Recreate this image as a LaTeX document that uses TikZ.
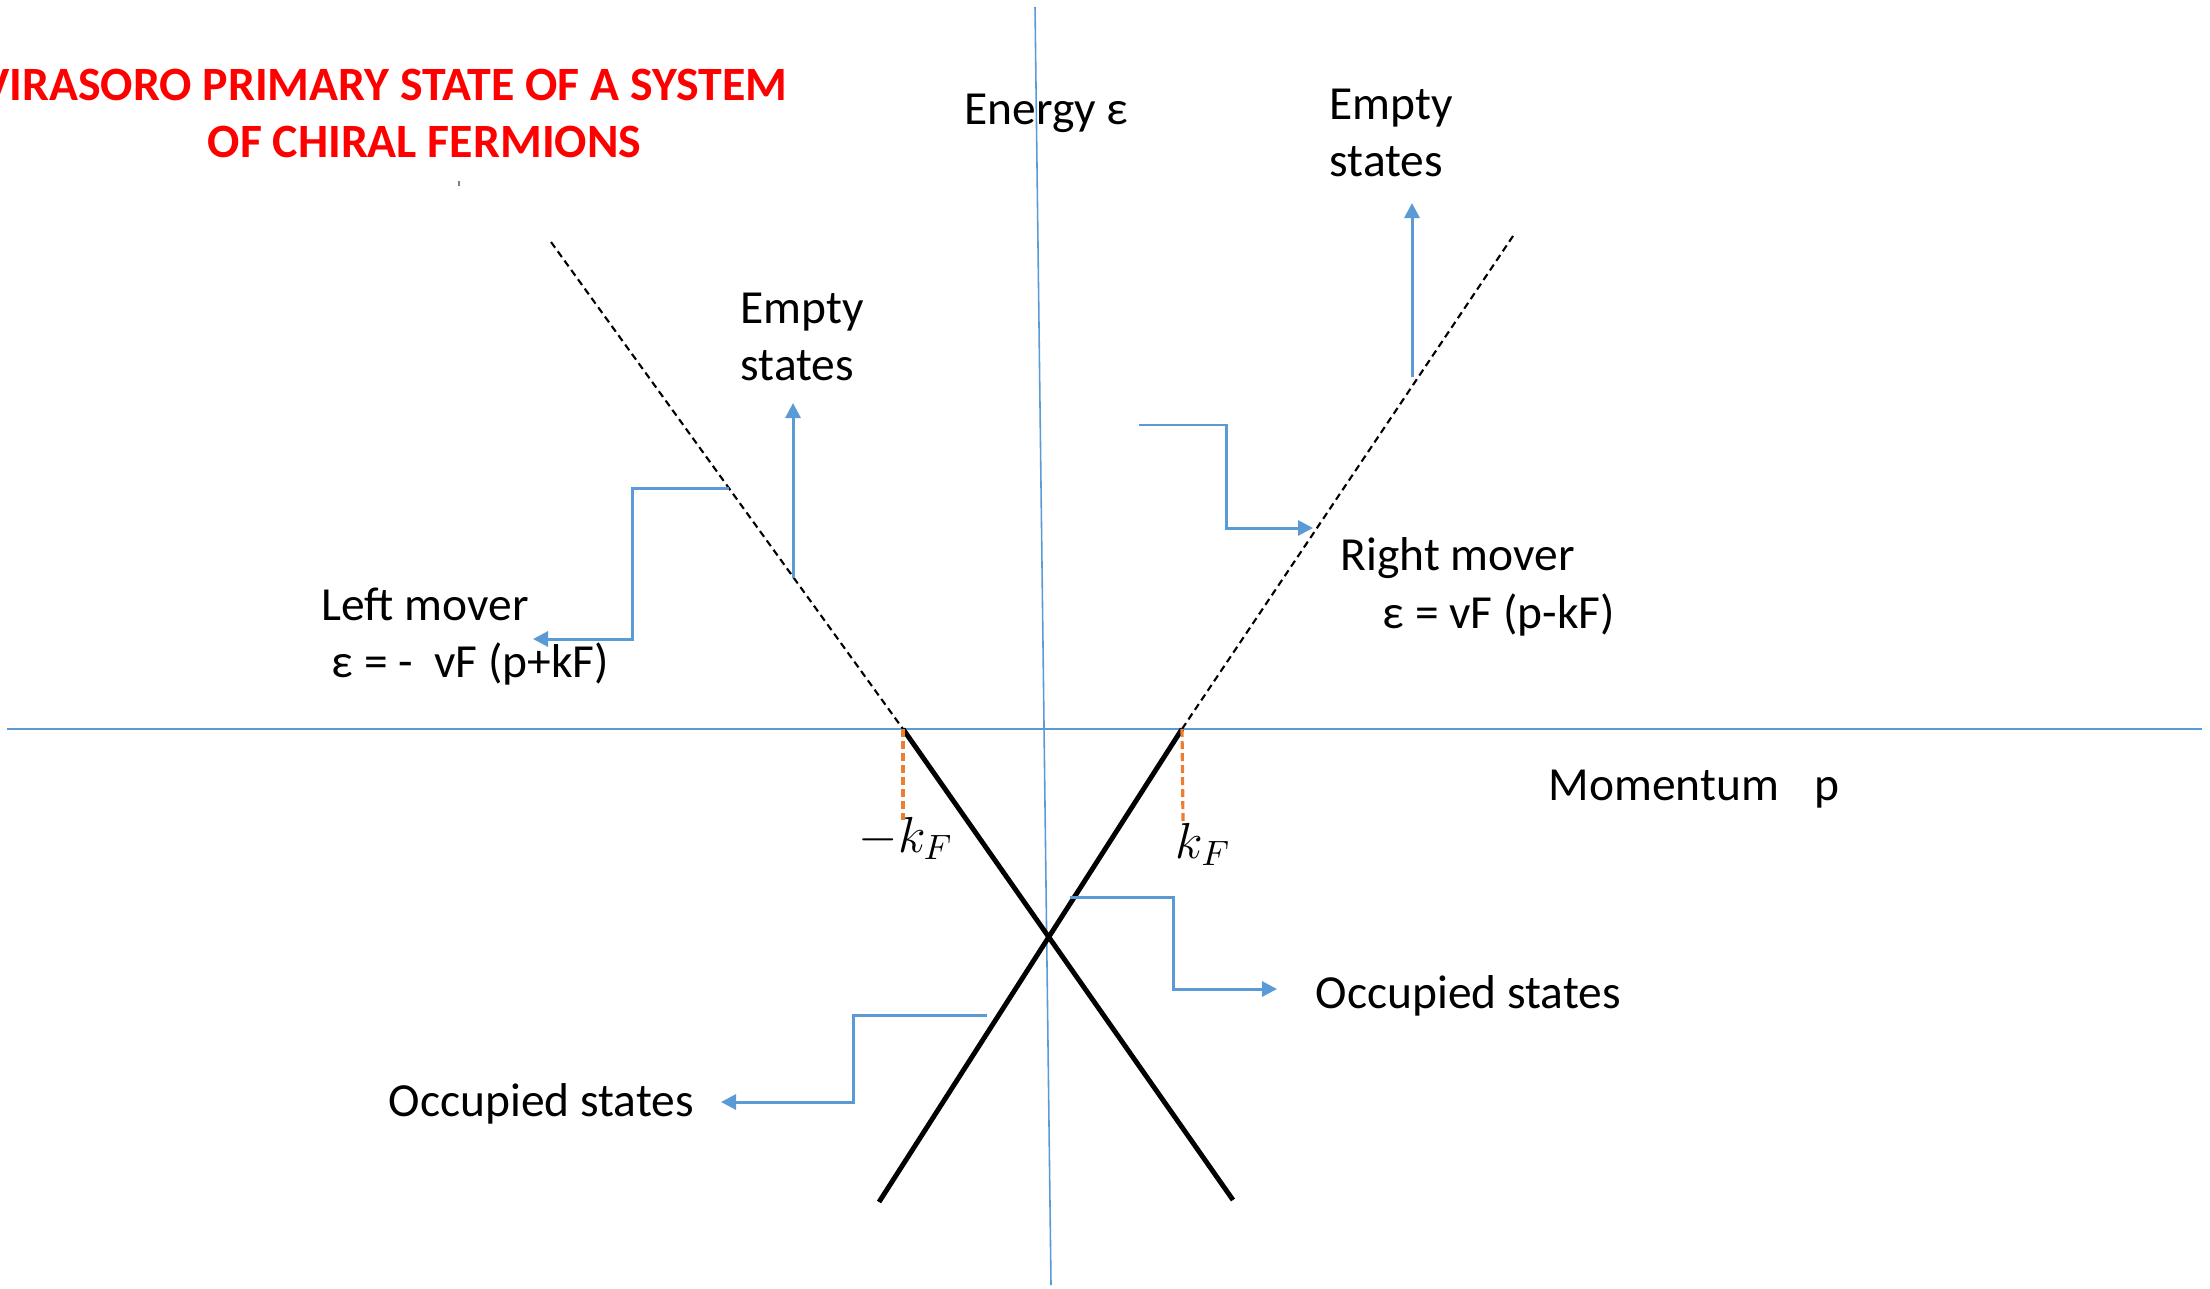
\documentclass[tikz,border=0pt]{standalone}
\usepackage{fontspec}
\setmainfont{Carlito}
\usetikzlibrary{arrows.meta}
\definecolor{axisblue}{HTML}{5B9BD5}
\definecolor{connblue}{HTML}{5B9BD5}
\definecolor{kforange}{HTML}{ED7D31}
\definecolor{titlered}{HTML}{FF0000}
\begin{document}
\begin{tikzpicture}[x=0.01cm,y=-0.01cm,
  lbl/.style={inner sep=0pt, font=\fontsize{13.5}{16.4}\selectfont},
  mth/.style={inner sep=0pt, font=\fontsize{14.5}{17}\selectfont},
  ttl/.style={inner sep=0pt, text=titlered, font=\fontsize{13.6}{16.4}\selectfont\bfseries},
  axis/.style={draw=axisblue, line width=0.45pt},
  band/.style={draw=black, line width=1.4pt},
  bandext/.style={draw=black, line width=0.6pt, dash pattern=on 0.07cm off 0.045cm},
  kfline/.style={draw=kforange, line width=0.9pt, dash pattern=on 0.08cm off 0.04cm},
  conn/.style={draw=connblue, line width=0.85pt, -{Triangle[length=0.15cm,width=0.15cm]}},
]
\useasboundingbox (0,0) rectangle (2210,1288);

% axes
\coordinate (hx1) at (7,729);
\coordinate (hx2) at (2202,729);
\coordinate (vy1) at (1035,7);
\coordinate (vy2) at (1051,1285);
\draw[axis] (hx1) -- (hx2);
\draw[axis] (vy1) -- (vy2);

% dispersion lines
\coordinate (Lt) at (551,242);
\coordinate (Lk) at (903,729);
\coordinate (Lb) at (1233,1200);
\coordinate (Rb) at (879,1202);
\coordinate (Rk) at (1182,729);
\coordinate (Rt) at (1513,236);
\draw[bandext] (Lt) -- (Lk);
\draw[band] (Lk) -- (Lb);
\draw[band] (Rb) -- (Rk);
\draw[bandext] (Rk) -- (Rt);

% k_F markers
\coordinate (LkD) at (903,820);
\coordinate (RkD) at (1183,823);
\draw[kfline] (Lk) -- (LkD);
\draw[kfline] (Rk) -- (RkD);
\node[mth, anchor=base west] (mkf) at (858,852) {$-k_F$};
\node[mth, anchor=base west] (pkf) at (1175,858) {$k_F$};

% title
\node[ttl, anchor=base east] (title1) at (788,101) {VIRASORO PRIMARY STATE OF A SYSTEM};
\node[ttl, anchor=base west] (title2) at (207,158) {OF CHIRAL FERMIONS};
\draw[gray, line width=0.3pt] (459,181) -- (459,186);

% labels
\node[lbl, anchor=base west] (energy) at (964,125) {Energy ε};
\node[lbl, anchor=north west, align=left] (emptyR) at (1329,88) {Empty\\states};
\node[lbl, anchor=north west, align=left] (emptyL) at (740,292) {Empty\\states};
\node[lbl, anchor=base west] (leftmv) at (321,620) {Left mover};
\node[lbl, anchor=base west] (lefteq) at (331,677) {ε = -\ \ vF (p+kF)};
\node[lbl, anchor=base west] (rightmv) at (1340,570) {Right mover};
\node[lbl, anchor=base west] (righteq) at (1382,628) {ε = vF (p-kF)};
\node[lbl, anchor=base west] (mom) at (1548,800) {Momentum\hspace{0.35cm}p};
\node[lbl, anchor=base west] (occR) at (1315,1008) {Occupied states};
\node[lbl, anchor=base west] (occL) at (388,1116) {Occupied states};

% connectors
\coordinate (eLs) at (793,578);
\coordinate (eLe) at (793,403);
\draw[conn] (eLs) -- (eLe);

\coordinate (lmS) at (729,488);
\coordinate (lmE) at (533,639);
\draw[conn] (lmS) -- (632,488) -- (632,639) -- (lmE);

\coordinate (rmS) at (1139,425);
\coordinate (rmE) at (1313,528);
\draw[conn] (rmS) -- (1226,425) -- (1226,528) -- (rmE);

\coordinate (eRs) at (1412,377);
\coordinate (eRe) at (1412,203);
\draw[conn] (eRs) -- (eRe);

\coordinate (oRs) at (1070,897);
\coordinate (oRe) at (1277,989);
\draw[conn] (oRs) -- (1173,897) -- (1173,989) -- (oRe);

\coordinate (oLs) at (987,1015);
\coordinate (oLe) at (721,1102);
\draw[conn] (oLs) -- (853,1015) -- (853,1102) -- (oLe);
\end{tikzpicture}
\end{document}
